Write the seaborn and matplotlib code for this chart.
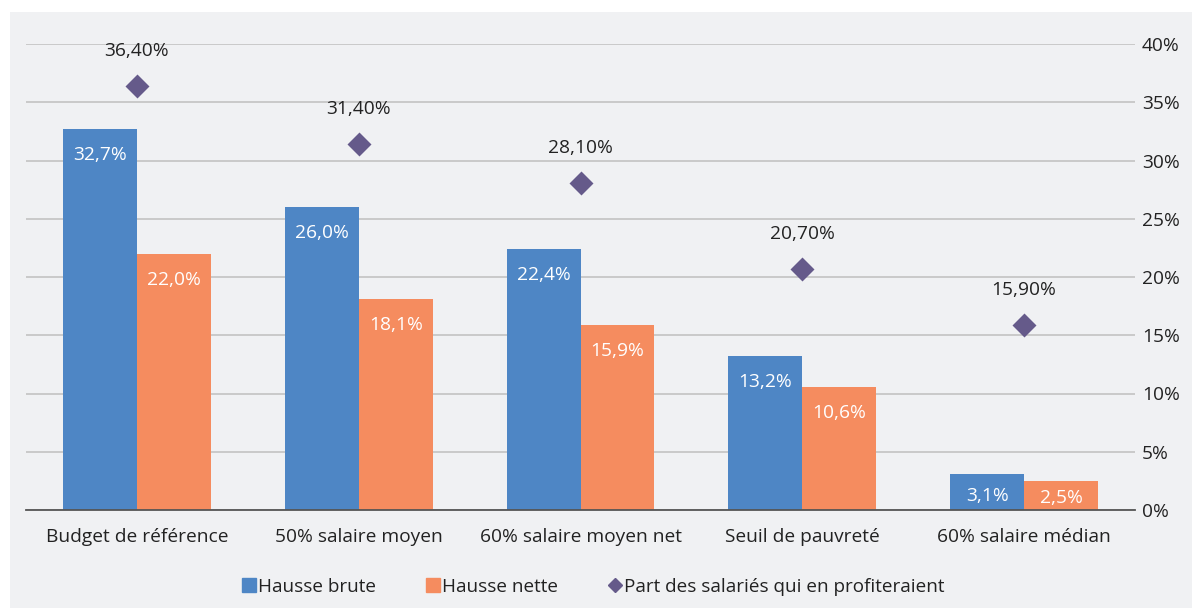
import pandas as pd
import seaborn as sns
import matplotlib.pyplot as plt
from matplotlib.lines import Line2D
from matplotlib.patches import Rectangle

# Data
categories = ["Budget de référence", "50% salaire moyen", "60% salaire moyen net",
              "Seuil de pauvreté", "60% salaire médian"]
hausse_brute = [32.7, 26.0, 22.4, 13.2, 3.1]
hausse_nette = [22.0, 18.1, 15.9, 10.6, 2.5]
part_salaries = [36.4, 31.4, 28.1, 20.7, 15.9]
series_names = ["Hausse brute", "Hausse nette", "Part des salariés qui en profiteraient"]

BLUE = "#4e86c5"
ORANGE = "#f58c5f"
PURPLE = "#655a8a"
BG = "#f0f1f3"
TEXT = "#222222"
FS = 13.8

sns.set_theme(style="white")
plt.rcParams["font.family"] = ["Open Sans", "DejaVu Sans"]

bars = pd.DataFrame({
    "categorie": categories * 2,
    "serie": [series_names[0]] * len(categories) + [series_names[1]] * len(categories),
    "valeur": hausse_brute + hausse_nette,
})
points = pd.DataFrame({"categorie": categories, "valeur": part_salaries})

fig = plt.figure(figsize=(11.92, 6.08), dpi=100, facecolor="white")
fig.patches.append(Rectangle((10 / 1192, 0), 1, 1 - 12 / 608, transform=fig.transFigure,
                             facecolor=BG, edgecolor="none", zorder=-10))
ax = fig.add_axes([26 / 1192, 1 - 510 / 608, (1135 - 26) / 1192, (510 - 44) / 608])
ax.set_facecolor(BG)

sns.barplot(data=bars, x="categorie", y="valeur", hue="serie", order=categories,
            palette=[BLUE, ORANGE], width=0.667, saturation=1, linewidth=0, ax=ax,
            legend=False, zorder=3)
sns.pointplot(data=points, x="categorie", y="valeur", order=categories, color=PURPLE,
              linestyle="none", marker="D", markersize=10, ax=ax, zorder=4)

ax.set_ylim(0, 40)
ax.set_xlim(-0.5, len(categories) - 0.5)
ax.set_yticks(range(0, 41, 5))
ax.set_yticklabels([f"{v}%" for v in range(0, 41, 5)])
ax.yaxis.tick_right()
ax.tick_params(axis="y", length=0, pad=5, labelsize=FS, labelcolor=TEXT)
ax.tick_params(axis="x", length=0, pad=13, labelsize=FS, labelcolor=TEXT)
ax.set_xlabel("")
ax.set_ylabel("")
for s in ["top", "left", "right"]:
    ax.spines[s].set_visible(False)
ax.spines["bottom"].set_color("#555555")
ax.spines["bottom"].set_linewidth(1.3)
ax.spines["bottom"].set_zorder(5)
ax.yaxis.grid(True, color="#c6c6c6", linewidth=1.3, zorder=0)
ax.set_axisbelow(True)

# value labels inside bars
px_per_unit = (510 - 44) / 40
for container in ax.containers:
    for bar in container:
        h = bar.get_height()
        off_px = min(26, 0.6 * h * px_per_unit)
        ax.annotate(f"{h:.1f}%".replace(".", ","), (bar.get_x() + bar.get_width() / 2, h),
                    xytext=(0, -off_px * 0.72), textcoords="offset points",
                    ha="center", va="center", color="white", fontsize=FS)

# labels above diamonds
for i, v in enumerate(part_salaries):
    ax.annotate(f"{v:.2f}%".replace(".", ","), (i, v), xytext=(0, 35 * 0.72),
                textcoords="offset points", ha="center", va="center",
                color=TEXT, fontsize=FS)

handles = [
    Line2D([], [], linestyle="none", marker="s", markersize=10.5, color=BLUE),
    Line2D([], [], linestyle="none", marker="s", markersize=10.5, color=ORANGE),
    Line2D([], [], linestyle="none", marker="D", markersize=7.5, color=PURPLE),
]
fig.legend(handles, series_names, loc="center", bbox_to_anchor=(0.496, 1 - 587 / 608),
           ncol=3, frameon=False, fontsize=13.6, handletextpad=-0.1, handlelength=1.2,
           columnspacing=2.4, labelcolor=TEXT)

plt.savefig("out.png", dpi=100, facecolor=fig.get_facecolor())
